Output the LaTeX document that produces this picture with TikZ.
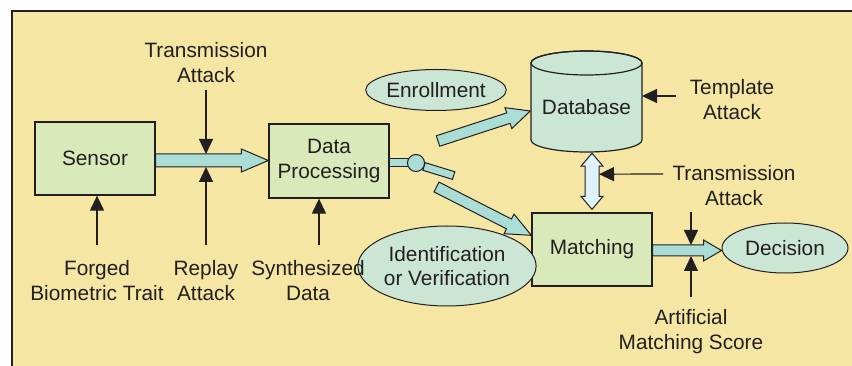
\documentclass[tikz,border=0pt]{standalone}
\usepackage{fontspec}
\setmainfont{Liberation Sans}
\usetikzlibrary{calc,arrows.meta,shapes.geometric}

\definecolor{bgyellow}{HTML}{F5E6A3}
\definecolor{ink}{HTML}{231F20}
\definecolor{boxgreen}{HTML}{D9E9B9}
\definecolor{ovalgreen}{HTML}{CCE6D6}
\definecolor{tealfill}{HTML}{A9DDD5}
\definecolor{paleblue}{HTML}{E1F1FB}

% block arrow: #1 style, #2 tail, #3 tip, #4 half shaft, #5 half head, #6 head length
\newcommand\blockarrow[6]{%
  \path[#1] let \p1=($(#3)-(#2)$), \n1={atan2(\y1,\x1)}, \n2={veclen(\x1,\y1)} in
    ($(#2)+(\n1+90:#4)$)
    -- ($(#2)+(\n1:{\n2*1pt-#6})+(\n1+90:#4)$)
    -- ($(#2)+(\n1:{\n2*1pt-#6})+(\n1+90:#5)$)
    -- (#3)
    -- ($(#2)+(\n1:{\n2*1pt-#6})+(\n1-90:#5)$)
    -- ($(#2)+(\n1:{\n2*1pt-#6})+(\n1-90:#4)$)
    -- ($(#2)+(\n1-90:#4)$) -- cycle;}

\begin{document}
\begin{tikzpicture}[x=1pt,y=1pt,
  font=\fontsize{20.8}{25}\selectfont, text=ink,
  box/.style={draw=ink, line width=1.3pt, fill=boxgreen, minimum width=120pt,
    minimum height=73pt, align=center, inner sep=0pt},
  oval/.style={ellipse, draw=ink, line width=1pt, fill=ovalgreen, align=center, inner sep=0pt},
  lbl/.style={align=center, inner sep=0pt},
  attack/.style={draw=ink, line width=1.2pt, -{Triangle[length=15pt,width=14pt]}},
  blk/.style={draw=ink, line width=1pt, fill=tealfill, line join=miter},
  dbl/.style={draw=ink, line width=1pt, fill=paleblue, line join=miter}]

\useasboundingbox (0,0) rectangle (852,-366);

% panel
\fill[bgyellow] (12,-11) rectangle (852,-366);
\draw[ink, line width=2pt] (12,-366) -- (12,-11) -- (852,-11);

% main blocks
\node[box] (sensor) at (95,-158.5) {Sensor};
\node[box, minimum height=74pt] (dp) at (329,-161) {Data\\Processing};
\node[box] (mat) at (592,-249.5) {Matching};

% database cylinder
\node[minimum width=111pt, minimum height=101pt, inner sep=0pt] (db) at (586.5,-101.5) {};
\filldraw[draw=ink, line width=1.2pt, fill=ovalgreen]
  (531,-63) -- (531,-140) arc (180:360:55.5 and 12) -- (642,-63)
  arc (0:180:55.5 and 12) -- cycle;
\draw[ink, line width=1.2pt] (586.5,-63) ellipse (55.5 and 12);
\node[lbl] at (586.5,-107) {Database};

% ovals
\node[oval, minimum width=128pt, minimum height=41pt] (enr) at (436,-90) {Enrollment};
\node[oval, minimum width=150pt, minimum height=80pt] (idv) at (447,-266)
  {Identification\\[-1pt]or Verification};
\node[oval, minimum width=126pt, minimum height=50pt] (dec) at (785,-248) {Decision};

% sensor -> data processing
\coordinate (s1) at ($(sensor.east)+(0,-2)$);
\coordinate (s2) at (s1 -| dp.west);
\blockarrow{blk}{s1}{s2}{6.5pt}{11.5pt}{27pt}

% switch on the data processing output
\draw[blk] ($(dp.east)+(0,2)$) rectangle ++(21,-8);
\begin{scope}[shift={(424,-166.5)}, rotate=-17]
  \draw[blk] (0,-4) rectangle (31,4);
\end{scope}
\node[circle, draw=ink, line width=1pt, fill=tealfill, minimum size=17pt, inner sep=0pt]
  (sw) at (416,-163) {};

% enrollment branch and matching branch
\coordinate (e1) at (438,-141);
\coordinate (e2) at ($(db.west)+(-0.5,-9.5)$);
\blockarrow{blk}{e1}{e2}{5.5pt}{11pt}{23pt}
\coordinate (m1) at (436.5,-187);
\coordinate (m2) at ($(mat.north west)+(0,-23)$);
\blockarrow{blk}{m1}{m2}{5.5pt}{11pt}{25pt}

% matching -> decision
\coordinate (d1) at ($(mat.east)+(0,-1)$);
\coordinate (d2) at (d1 -| dec.west);
\blockarrow{blk}{d1}{d2}{5.5pt}{10.5pt}{18pt}

% database <-> matching
\coordinate (u1) at ($(mat.north |- db.south)+(0,-1)$);
\coordinate (u2) at ($(mat.north)+(0,3)$);
\draw[dbl] (u1) -- ++(11,-13) -- ++(-4,0) -- ($(u2)+(7,13)$) -- ++(4,0) -- (u2)
  -- ++(-11,13) -- ++(4,0) -- ($(u1)+(-7,-13)$) -- ++(-4,0) -- cycle;

% attack points
\node[lbl] (ta1) at (206,-62.5) {Transmission\\Attack};
\coordinate (ta1src) at (206,-90);
\draw[attack] (ta1src) -- ($(s1)!(ta1src)!(s2)+(0,6.5)$);

\node[lbl] (rep) at (206,-281) {Replay\\Attack};
\coordinate (repsrc) at (206,-245);
\draw[attack] (repsrc) -- ($(s1)!(repsrc)!(s2)+(0,-6.5)$);

\node[lbl] (forg) at (97,-281) {Forged\\Biometric Trait};
\coordinate (forgsrc) at (97,-245);
\draw[attack] (forgsrc) -- (forgsrc |- sensor.south);

\node[lbl] (syn) at (308,-281) {Synthesized\\Data};
\coordinate (synsrc) at (319,-245);
\draw[attack] (synsrc) -- (synsrc |- dp.south);

\node[lbl] (tmpl) at (732,-100) {Template\\Attack};
\coordinate (tmplsrc) at (676,-96);
\draw[attack] (tmplsrc) -- (642,-96);

\node[lbl] (ta2) at (734,-185.5) {Transmission\\Attack};
\coordinate (ta2src) at (663,-174);
\draw[attack] (ta2src) -- ($(u1)+(7,-21)$);

\node[lbl] (score) at (691,-331.5) {Artificial\\Matching Score};
\coordinate (sctop) at (691,-212);
\coordinate (scbot) at (691,-297);
\draw[attack] (sctop) -- ($(d1)!(sctop)!(d2)+(0,5.5)$);
\draw[attack] (scbot) -- ($(d1)!(scbot)!(d2)+(0,-5.5)$);

\end{tikzpicture}
\end{document}
